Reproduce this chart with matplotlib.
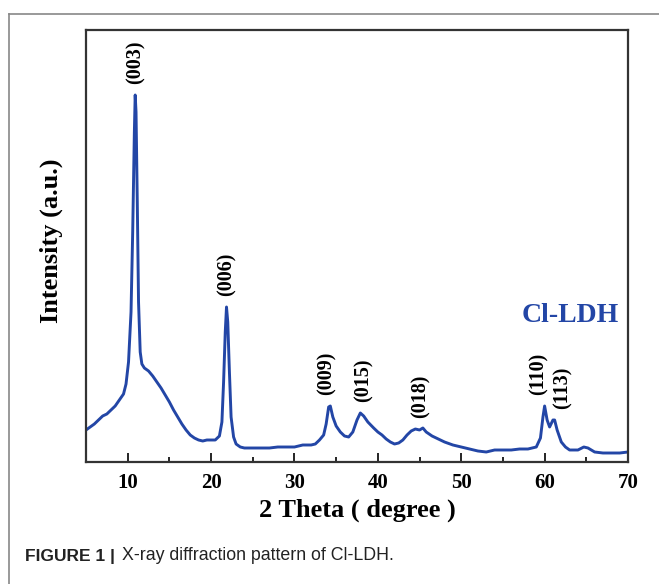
import numpy as np
import matplotlib.pyplot as plt
from matplotlib.lines import Line2D

# XRD pattern of Cl-LDH, 2 theta (degree) vs intensity (a.u.)
two_theta = [5.0, 6.0, 7.0, 7.5, 8.0, 8.5, 9.0, 9.5, 9.8, 10.1, 10.4, 10.6, 10.8, 10.9,
             11.0, 11.15, 11.3, 11.5, 11.7, 12.0, 12.5, 13.0, 13.5, 14.0, 14.5, 15.0,
             15.5, 16.0, 16.5, 17.0, 17.5, 18.0, 18.5, 19.0, 19.5, 20.0, 20.5, 21.0,
             21.3, 21.5, 21.7, 21.85, 22.0, 22.2, 22.4, 22.7, 23.0, 23.5, 24.0, 25.0,
             26.0, 27.0, 28.0, 29.0, 30.0, 31.0, 32.0, 32.5, 33.0, 33.5, 33.8, 34.1,
             34.3, 34.6, 35.0, 35.5, 36.0, 36.5, 37.0, 37.5, 37.9, 38.3, 38.8, 39.5,
             40.0, 40.5, 41.0, 41.5, 42.0, 42.5, 43.0, 43.5, 44.0, 44.5, 45.0, 45.4,
             45.8, 46.5, 47.0, 48.0, 49.0, 50.0, 51.0, 52.0, 53.0, 54.0, 55.0, 56.0,
             57.0, 58.0, 59.0, 59.5, 59.8, 60.0, 60.3, 60.6, 61.0, 61.2, 61.5, 62.0,
             62.5, 63.0, 64.0, 64.7, 65.2, 66.0, 67.0, 68.0, 69.0, 70.0]
intensity = [32, 38, 46, 48, 52, 56, 62, 68, 78, 100, 150, 230, 330, 367,
             350, 260, 160, 110, 98, 94, 91, 86, 80, 74, 67, 60,
             52, 45, 38, 32, 27, 24, 22, 21, 22, 22, 22, 26,
             40, 80, 130, 155, 140, 90, 45, 25, 18, 15, 14, 14,
             14, 14, 15, 15, 15, 17, 17, 18, 22, 27, 38, 55,
             56, 45, 36, 30, 26, 25, 30, 42, 49, 46, 40, 34,
             30, 27, 23, 20, 18, 19, 22, 27, 31, 33, 32, 34,
             30, 26, 24, 20, 17, 15, 13, 11, 10, 12, 12, 12,
             13, 13, 15, 24, 45, 56, 42, 35, 42, 42, 32, 20,
             15, 12, 12, 15, 14, 10, 9, 9, 9, 10]

hkl_labels = ['(003)', '(006)', '(009)', '(015)', '(018)', '(110)', '(113)']
hkl_pos = [10.9, 21.85, 34.2, 37.9, 45.0, 60.0, 61.1]
label_shift = [0, 0, -2, 2, 1, -4, 6]   # points, keeps close labels apart

serif = ['Liberation Serif', 'DejaVu Serif']
blue = '#2346a6'

fig = plt.figure(figsize=(6.59, 5.84), dpi=100)
ax = fig.add_axes([86 / 659, 1 - 462 / 584, 542 / 659, 432 / 584])

ax.plot(two_theta, intensity, color=blue, lw=2.1, solid_joinstyle='round')

ax.set_xlim(5, 70)
ax.set_ylim(0, 432)
ax.set_xticks(np.arange(10, 71, 10))
ax.set_xticks(np.arange(5, 71, 5), minor=True)
ax.set_yticks([])
ax.tick_params(axis='x', which='major', direction='in', length=6.5, width=1.2,
               pad=8, labelsize=15)
ax.tick_params(axis='x', which='minor', direction='in', length=3.5, width=1.2)
for lab in ax.get_xticklabels():
    lab.set_family(serif)
    lab.set_fontweight('bold')
for sp in ax.spines.values():
    sp.set_linewidth(1.6)
    sp.set_color('#333333')

# peak indexing
for lab, pos, dx in zip(hkl_labels, hkl_pos, label_shift):
    top = max(np.interp(pos, two_theta, intensity), np.interp(pos + 0.2, two_theta, intensity))
    ax.annotate(lab, xy=(pos, top), xytext=(dx, 8), textcoords='offset points',
                rotation=90, ha='center', va='bottom', family=serif,
                fontweight='bold', fontsize=14.5)

ax.text(0.893, 0.338, 'Cl-LDH', transform=ax.transAxes, ha='center', va='center',
        family=serif, fontweight='bold', fontsize=20, color=blue)

ax.set_xlabel('2 Theta ( degree )', family=serif, fontweight='bold', fontsize=19)
ax.xaxis.set_label_coords(0.5, -(499 - 462) / 432)
ax.set_ylabel('Intensity (a.u.)', family=serif, fontweight='bold', fontsize=19)
ax.yaxis.set_label_coords(-(86 - 63) / 542, 1 - (241 - 30) / 432)

# outer panel frame
fig.add_artist(Line2D([9 / 659, 1], [1 - 14 / 584] * 2, color='#888888', lw=1.2))
fig.add_artist(Line2D([9 / 659] * 2, [0, 1 - 14 / 584], color='#888888', lw=1.2))

fig.text(25 / 659, 1 - 556 / 584, 'FIGURE 1 |', family=['Liberation Sans', 'DejaVu Sans'],
         fontweight='bold', fontsize=12.5, va='center', color='#222222')
fig.text(122 / 659, 1 - 556 / 584, 'X-ray diffraction pattern of Cl-LDH.',
         family=['Liberation Sans', 'DejaVu Sans'], fontsize=12.8, va='center',
         color='#222222')

fig.savefig('out.png', dpi=100)
